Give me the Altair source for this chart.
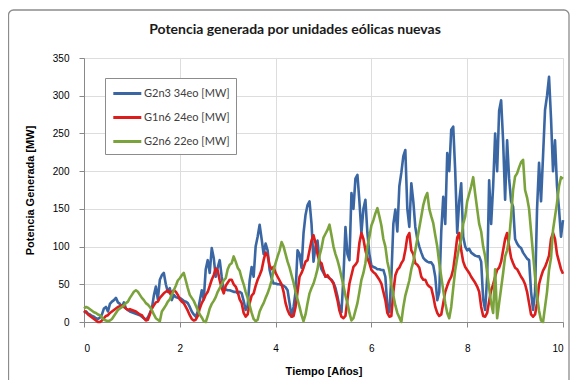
import altair as alt
import pandas as pd

STEPS_PER_YEAR = 24

chart_title = "Potencia generada por unidades eólicas nuevas"
series_names = ["G2n3 34eo [MW]", "G1n6 24eo [MW]", "G2n6 22eo [MW]"]
series_colors = ["#3A67A3", "#DD1C1C", "#7BA33B"]
x_ticks = [0, 2, 4, 6, 8, 10]
y_ticks = [0, 50, 100, 150, 200, 250, 300, 350]

# G2n3 34eo (blue), 24 samples per year
blue = [
    12, 14, 11, 10, 8, 7, 5, 4, 6, 10, 18, 20, 14, 24, 27, 29, 32, 26, 24, 20, 26, 18, 16, 14,
    13, 12, 11, 10, 9, 7, 5, 3, 6, 12, 18, 35, 47, 30, 56, 62, 65, 50, 40, 45, 29, 36, 33, 32,
    32, 30, 28, 27, 25, 20, 14, 10, 7, 14, 28, 42, 30, 70, 82, 65, 98, 85, 60, 72, 82, 60, 42, 43,
    42, 42, 41, 40, 40, 38, 40, 38, 28, 16, 22, 55, 73, 60, 100, 113, 129, 110, 90, 104, 95, 69, 58, 51,
    51, 50, 50, 49, 48, 46, 42, 25, 7, 20, 40, 95, 90, 72, 118, 142, 155, 160, 130, 80, 100, 108, 80, 70,
    65, 60, 60, 58, 56, 52, 45, 34, 20, 13, 60, 126, 90, 82, 171, 150, 190, 195, 160, 118, 150, 162, 118, 90,
    75, 73, 72, 70, 70, 69, 69, 60, 20, 13, 60, 130, 149, 120, 180, 198, 220, 228, 150, 126, 184, 160, 126, 110,
    100, 92, 85, 82, 80, 79, 79, 75, 60, 29, 40, 120, 166, 130, 224, 200, 255, 259, 200, 118, 160, 184, 113, 100,
    95, 97, 92, 90, 88, 87, 87, 80, 30, 16, 60, 188, 130, 180, 250, 200, 280, 294, 240, 162, 241, 190, 160, 153,
    110, 104, 100, 98, 92, 88, 84, 82, 40, 16, 40, 150, 211, 160, 220, 281, 300, 325, 270, 200, 241, 180, 150, 113,
    135,
]

# G1n6 24eo (red)
red = [
    15, 13, 10, 8, 6, 4, 2, 0, 0, 2, 5, 8, 9, 12, 14, 16, 18, 20, 21, 22, 20, 18, 16, 17,
    16, 15, 14, 12, 10, 9, 5, 2, 3, 10, 18, 22, 26, 27, 32, 35, 38, 40, 42, 38, 40, 42, 40, 36,
    30, 27, 25, 20, 15, 9, 4, 2, 3, 8, 18, 25, 30, 36, 40, 48, 56, 62, 71, 68, 55, 45, 38, 48,
    52, 56, 56, 50, 47, 40, 30, 25, 12, 7, 10, 25, 35, 38, 48, 56, 62, 69, 82, 92, 88, 75, 70, 73,
    65, 60, 55, 50, 40, 25, 16, 10, 7, 8, 20, 40, 60, 65, 72, 80, 82, 95, 108, 115, 105, 90, 80, 78,
    68, 60, 62, 58, 55, 51, 40, 29, 15, 7, 5, 8, 30, 51, 62, 73, 76, 80, 105, 118, 110, 95, 85, 78,
    69, 66, 64, 60, 56, 51, 40, 29, 12, 7, 8, 40, 62, 69, 72, 78, 82, 95, 113, 118, 95, 90, 78, 76,
    72, 60, 56, 56, 50, 47, 45, 34, 20, 12, 8, 10, 25, 40, 48, 55, 60, 70, 90, 112, 118, 95, 80, 73,
    69, 65, 60, 56, 52, 47, 40, 20, 8, 7, 12, 28, 42, 50, 60, 69, 72, 80, 95, 110, 118, 100, 85, 78,
    72, 70, 65, 60, 56, 50, 40, 25, 10, 7, 10, 25, 50, 60, 68, 73, 80, 88, 110, 118, 110, 90, 80, 70,
    64,
]

# G2n6 22eo (green)
green = [
    18, 20, 19, 17, 15, 13, 12, 10, 9, 6, 3, 2, 1, 2, 4, 8, 12, 16, 18, 20, 22, 25, 27, 32,
    36, 40, 42, 40, 36, 32, 29, 25, 23, 20, 16, 10, 5, 3, 1, 14, 18, 22, 27, 30, 36, 42, 48, 55,
    58, 62, 65, 55, 45, 36, 32, 28, 22, 16, 10, 6, 1, 0, 8, 18, 24, 28, 33, 40, 45, 50, 55, 58,
    70, 76, 78, 87, 80, 72, 68, 58, 50, 40, 32, 22, 12, 4, 1, 3, 14, 20, 25, 32, 38, 46, 55, 69,
    78, 87, 95, 106, 100, 90, 80, 72, 62, 52, 40, 30, 20, 9, 1, 10, 25, 38, 45, 51, 60, 70, 88, 98,
    112, 117, 122, 129, 115, 100, 90, 82, 72, 60, 48, 35, 25, 12, 2, 5, 15, 25, 40, 56, 65, 78, 100, 113,
    128, 135, 144, 151, 140, 128, 110, 100, 80, 68, 50, 35, 22, 12, 6, 0, 20, 35, 45, 55, 70, 80, 95, 110,
    125, 140, 155, 165, 171, 150, 140, 131, 115, 100, 78, 60, 42, 25, 12, 5, 20, 45, 69, 85, 100, 110, 130, 140,
    160, 170, 180, 192, 170, 150, 130, 120, 100, 87, 65, 45, 25, 12, 70, 5, 25, 45, 65, 87, 95, 110, 140, 175,
    193, 197, 205, 212, 215, 175, 165, 150, 120, 90, 60, 35, 15, 2, 0, 20, 40, 69, 85, 122, 140, 158, 180, 192,
    190,
]

time = [k / STEPS_PER_YEAR for k in range(len(blue))]

rows = []
for name, vals in zip(series_names, [blue, red, green]):
    for t, v in zip(time, vals):
        rows.append({"t": t, "v": v, "serie": name})
df = pd.DataFrame(rows)

FONT = "Lato"

x_enc = alt.X(
    "t:Q",
    scale=alt.Scale(domain=[0, 10], nice=False),
    axis=alt.Axis(values=x_ticks, title="Tiempo [Años]", labelPadding=16, titlePadding=12),
)
y_enc = alt.Y(
    "v:Q",
    scale=alt.Scale(domain=[0, 350], nice=False),
    axis=alt.Axis(values=y_ticks, title="Potencia Generada [MW]", labelPadding=10, titlePadding=17),
)
color_enc = alt.Color(
    "serie:N",
    scale=alt.Scale(domain=series_names, range=series_colors),
    legend=alt.Legend(
        title=None,
        orient="none",
        legendX=21,
        legendY=20,
        symbolType="M-0.9,0H2.6",
        symbolStrokeWidth=3,
        symbolSize=256,
        labelFont=FONT,
        labelFontSize=11,
        labelColor="#404040",
        rowPadding=8,
        padding=6,
        strokeColor="#8c8c8c",
        fillColor="white",
        labelOffset=14,
    ),
)

base = alt.Chart(df)
layers = []
for n in series_names:
    layers.append(
        base.transform_filter(alt.datum.serie == n)
        .mark_line(strokeWidth=2.6, strokeJoin="round")
        .encode(x=x_enc, y=y_enc, color=color_enc)
    )

deco = alt.Chart(alt.Data(values=[{"label": chart_title}]))

frame = deco.mark_rect(
    fillOpacity=0, stroke="#8c8c8c", strokeWidth=1.3, cornerRadius=5
).encode(x=alt.value(-75.5), x2=alt.value(485), y=alt.value(-48), y2=alt.value(330))

title_text = deco.mark_text(
    font=FONT, fontSize=14, fontWeight="bold", color="#1a1a1a", align="center", baseline="middle"
).encode(text="label:N", x=alt.value(211), y=alt.value(-28))

chart = (
    alt.layer(frame, title_text, *layers)
    .properties(
        width=479,
        height=264,
        padding={"left": 76, "top": 50, "right": 7, "bottom": 58},
        autosize=alt.AutoSizeParams(type="none"),
    )
    .configure_view(stroke="#8a8a8a", strokeWidth=1.5)
    .configure_axis(
        labelFont=FONT,
        labelFontSize=11,
        labelColor="#404040",
        titleFont=FONT,
        titleFontSize=12,
        titleFontWeight="bold",
        titleColor="#1a1a1a",
        ticks=False,
        domain=False,
        gridColor="#c8c8c8",
        gridDash=[2, 2],
        gridWidth=1,
    )
    .configure(background="white")
)

chart.save("out.html", embed_options={"renderer": "svg", "actions": False})
